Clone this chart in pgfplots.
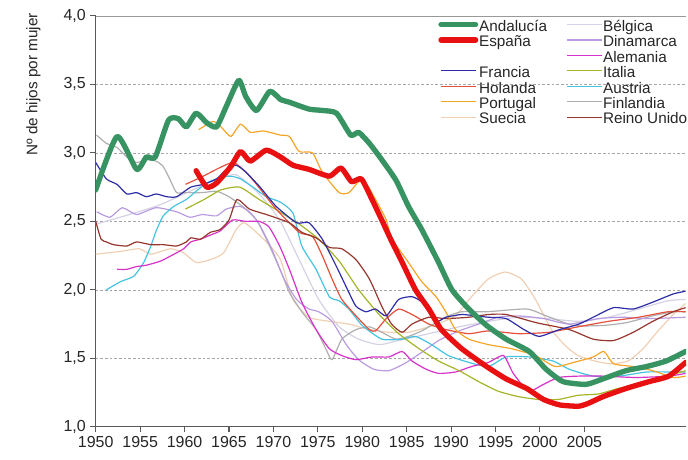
\documentclass[border=0pt]{standalone}
\usepackage{pgfplots}
\pgfplotsset{compat=1.18}
\usepackage{fontspec}
\setmainfont{Liberation Sans}
\newcommand\lf{\fontsize{11.5}{13}\selectfont}
\definecolor{cAnd}{RGB}{55,148,98}
\definecolor{cEsp}{RGB}{232,16,16}
\definecolor{cFra}{RGB}{45,45,165}
\definecolor{cHol}{RGB}{228,80,60}
\definecolor{cPor}{RGB}{245,165,40}
\definecolor{cSue}{RGB}{240,208,180}
\definecolor{cBel}{RGB}{212,210,228}
\definecolor{cDin}{RGB}{185,155,225}
\definecolor{cAle}{RGB}{215,50,200}
\definecolor{cIta}{RGB}{165,180,40}
\definecolor{cAus}{RGB}{70,195,225}
\definecolor{cFin}{RGB}{175,175,175}
\definecolor{cRei}{RGB}{150,55,45}
\pgfplotsset{
  thinl/.style={line width=0.9pt, smooth, tension=0.35, line join=round},
  thickl/.style={line width=4pt, smooth, tension=0.35, line join=round, line cap=round},
}
\begin{document}
\begin{tikzpicture}
\begin{axis}[
  scale only axis, width=444pt, height=309pt,
  xmin=1950, xmax=2016.45, ymin=1, ymax=4,
  axis x line*=bottom, axis y line*=left,
  axis line style={-, draw=black!65, line width=0.8pt},
  xtick={1950,1955,1960,1965,1970,1975,1980,1985,1990,1995,2000,2005},
  xticklabels={1950,1955,1960,1965,1970,1975,1980,1985,1990,1995,2000,2005},
  ytick={1,1.5,2,2.5,3,3.5,4},
  yticklabels={{1,0},{1,5},{2,0},{2,5},{3,0},{3,5},{4,0}},
  tick align=outside, major tick length=4pt,
  tick style={draw=black!65, line width=0.8pt},
  ymajorgrids,
  major grid style={draw=black!35, dash pattern=on 2pt off 1.5pt, line width=0.5pt},
  ticklabel style={font=\fontsize{12}{14}\selectfont, text=black!85},
  ylabel={Nº de hijos por mujer},
  ylabel style={at={(axis description cs:-0.093,1.007)}, anchor=south east, inner sep=0pt, font=\fontsize{11.5}{13}\selectfont, text=black!85},
  legend columns=2,
  legend cell align=left,
  legend image code/.code={\draw[#1] (0pt,2.3pt) -- (26pt,2.3pt);},
  legend style={at={(0.58,0.991)}, anchor=north west, draw=none, fill=none, inner sep=0pt,
    text=black!85,
    nodes={inner sep=0.6pt, text height=8pt, text depth=2.4pt},
    /tikz/every even column/.append style={column sep=14pt}},
]
\draw[black!40, line width=0.6pt] (rel axis cs:0,1) -- (rel axis cs:1,1);

% Belgica
\addplot[cBel, thinl, forget plot] coordinates {(1950.0,2.48) (1953.8,2.55) (1957.2,2.62) (1960.6,2.72) (1963.4,2.80) (1965.8,2.84) (1968.4,2.70) (1970.7,2.51) (1972.9,2.22) (1975.1,1.93) (1977.4,1.73) (1979.6,1.64) (1981.9,1.60) (1984.1,1.63) (1987.5,1.68) (1990.9,1.73) (1994.2,1.77) (1997.6,1.80) (2001.0,1.79) (2004.3,1.77) (2007.7,1.80) (2011.1,1.86) (2014.4,1.92) (2016.4,1.93)};
% Suecia
\addplot[cSue, thinl, forget plot] coordinates {(1950.0,2.26) (1952.7,2.28) (1954.9,2.30) (1956.2,2.26) (1958.4,2.30) (1959.9,2.27) (1961.3,2.20) (1962.9,2.22) (1964.4,2.27) (1965.8,2.44) (1966.6,2.49) (1967.4,2.46) (1969.2,2.35) (1970.8,2.22) (1972.2,1.93) (1974.0,1.80) (1976.3,1.77) (1978.5,1.75) (1980.8,1.71) (1983.0,1.69) (1985.2,1.69) (1987.5,1.73) (1989.2,1.77) (1990.5,1.81) (1992.3,1.95) (1994.2,2.08) (1996.1,2.13) (1997.9,2.08) (1999.5,1.93) (2001.3,1.71) (2002.9,1.59) (2004.3,1.52) (2006.2,1.48) (2008.0,1.46) (2009.9,1.48) (2011.6,1.57) (2013.3,1.70) (2015.0,1.82) (2016.4,1.90)};
% Finlandia
\addplot[cFin, thinl, forget plot] coordinates {(1950.1,3.13) (1951.2,3.07) (1952.4,3.04) (1953.5,2.97) (1954.6,2.93) (1955.7,2.95) (1956.8,2.94) (1957.6,2.90) (1958.4,2.80) (1959.1,2.71) (1960.2,2.71) (1962.0,2.71) (1963.6,2.72) (1965.0,2.68) (1966.5,2.61) (1968.1,2.51) (1969.5,2.33) (1971.0,2.11) (1971.8,1.98) (1973.2,1.84) (1974.8,1.71) (1975.9,1.57) (1976.6,1.49) (1977.7,1.64) (1979.3,1.71) (1980.8,1.73) (1982.2,1.69) (1983.8,1.64) (1985.2,1.66) (1986.7,1.70) (1988.3,1.76) (1989.7,1.81) (1991.2,1.84) (1994.0,1.84) (1998.5,1.86) (2000.7,1.81) (2003.8,1.74) (2007.1,1.74) (2009.7,1.76) (2012.7,1.81) (2015.0,1.84) (2016.4,1.84)};
% Dinamarca
\addplot[cDin, thinl, forget plot] coordinates {(1950.1,2.57) (1951.6,2.53) (1953.0,2.60) (1954.6,2.55) (1956.8,2.60) (1959.1,2.57) (1960.6,2.53) (1962.0,2.55) (1963.6,2.54) (1964.7,2.59) (1966.2,2.61) (1967.3,2.57) (1968.4,2.48) (1969.8,2.30) (1971.2,2.08) (1972.6,1.93) (1974.0,1.86) (1975.1,1.84) (1976.6,1.77) (1978.2,1.60) (1979.6,1.49) (1981.3,1.42) (1983.0,1.41) (1984.7,1.46) (1986.4,1.53) (1988.6,1.63) (1990.9,1.70) (1993.1,1.75) (1995.3,1.80) (1997.6,1.81) (2000.4,1.79) (2003.3,1.75) (2006.6,1.79) (2009.4,1.80) (2012.2,1.79) (2016.4,1.80)};
% Austria
\addplot[cAus, thinl, forget plot] coordinates {(1951.2,2.00) (1952.8,2.06) (1954.3,2.10) (1955.4,2.20) (1956.2,2.32) (1956.8,2.43) (1957.6,2.54) (1958.8,2.61) (1960.2,2.66) (1961.3,2.72) (1962.5,2.78) (1964.0,2.82) (1965.2,2.83) (1966.3,2.81) (1967.7,2.75) (1969.2,2.68) (1970.8,2.64) (1972.2,2.56) (1973.2,2.32) (1974.8,2.15) (1976.3,1.95) (1977.4,1.92) (1978.5,1.86) (1980.0,1.74) (1982.2,1.64) (1984.5,1.64) (1986.0,1.66) (1987.8,1.60) (1989.7,1.52) (1992.0,1.47) (1994.2,1.44) (1996.2,1.51) (1998.8,1.51) (2001.5,1.48) (2003.3,1.42) (2006.0,1.37) (2008.9,1.37) (2012.0,1.40) (2015.0,1.40) (2016.4,1.40)};
% Alemania
\addplot[cAle, thinl, forget plot] coordinates {(1952.4,2.15) (1953.5,2.15) (1954.6,2.17) (1955.7,2.18) (1957.3,2.21) (1958.8,2.26) (1959.9,2.30) (1960.7,2.35) (1961.8,2.37) (1962.9,2.40) (1964.0,2.43) (1965.4,2.51) (1966.9,2.50) (1968.4,2.50) (1969.5,2.46) (1970.7,2.32) (1971.8,2.15) (1973.2,1.91) (1974.8,1.71) (1976.3,1.57) (1977.7,1.52) (1979.3,1.49) (1981.1,1.51) (1983.0,1.51) (1984.5,1.55) (1985.6,1.48) (1987.2,1.42) (1988.6,1.39) (1990.5,1.40) (1992.3,1.44) (1994.2,1.47) (1995.9,1.52) (1997.0,1.39) (1998.7,1.26) (2000.4,1.31) (2002.1,1.36) (2004.3,1.37) (2007.1,1.37) (2010.8,1.36) (2014.5,1.37) (2016.4,1.39)};
% Italia
\addplot[cIta, thinl, forget plot] coordinates {(1960.1,2.59) (1962.2,2.66) (1964.1,2.73) (1966.2,2.75) (1968.4,2.66) (1970.7,2.57) (1972.9,2.48) (1975.1,2.37) (1977.4,2.21) (1979.6,2.00) (1981.9,1.82) (1984.1,1.68) (1986.4,1.57) (1988.6,1.48) (1990.9,1.41) (1993.1,1.33) (1995.3,1.26) (1997.6,1.22) (1999.8,1.20) (2002.1,1.20) (2004.3,1.23) (2006.6,1.24) (2008.8,1.28) (2011.1,1.31) (2013.3,1.35) (2016.4,1.41)};
% Holanda
\addplot[cHol, thinl, forget plot] coordinates {(1960.1,2.77) (1962.1,2.83) (1963.9,2.89) (1965.5,2.93) (1966.9,2.86) (1968.1,2.77) (1970.3,2.59) (1972.9,2.42) (1974.4,2.39) (1975.5,2.25) (1976.6,2.08) (1977.7,1.93) (1979.3,1.81) (1980.8,1.71) (1981.5,1.70) (1982.7,1.79) (1984.1,1.86) (1985.6,1.82) (1987.5,1.75) (1989.4,1.71) (1992.0,1.68) (1994.2,1.70) (1997.6,1.68) (2001.0,1.69) (2004.3,1.73) (2007.7,1.77) (2011.1,1.80) (2014.4,1.84) (2016.4,1.84)};
% Reino Unido
\addplot[cRei, thinl, forget plot] coordinates {(1950.0,2.50) (1950.6,2.37) (1951.2,2.35) (1952.0,2.33) (1953.5,2.32) (1954.6,2.35) (1956.2,2.33) (1957.6,2.33) (1959.1,2.32) (1960.2,2.35) (1960.7,2.38) (1961.8,2.37) (1962.9,2.42) (1964.0,2.44) (1965.0,2.51) (1965.9,2.66) (1967.3,2.59) (1969.2,2.55) (1971.8,2.49) (1973.2,2.42) (1974.8,2.38) (1976.3,2.31) (1977.7,2.30) (1979.3,2.22) (1980.8,2.08) (1982.2,1.88) (1983.3,1.75) (1984.5,1.69) (1985.6,1.75) (1987.5,1.80) (1989.4,1.79) (1992.0,1.80) (1994.2,1.82) (1996.2,1.82) (1999.6,1.76) (2003.3,1.71) (2006.0,1.64) (2008.3,1.63) (2010.5,1.69) (2012.7,1.77) (2015.0,1.84) (2016.4,1.87)};
% Portugal
\addplot[cPor, thinl, forget plot] coordinates {(1961.6,3.17) (1963.2,3.23) (1964.1,3.19) (1965.2,3.12) (1966.3,3.21) (1967.4,3.15) (1968.9,3.16) (1970.8,3.13) (1971.8,3.12) (1972.9,3.01) (1974.4,3.00) (1975.5,2.86) (1977.4,2.71) (1978.5,2.71) (1979.6,2.79) (1980.4,2.78) (1981.5,2.66) (1982.7,2.51) (1983.3,2.37) (1984.1,2.30) (1985.2,2.20) (1986.7,2.06) (1988.3,1.95) (1989.4,1.84) (1990.5,1.71) (1992.0,1.64) (1994.2,1.60) (1996.8,1.57) (1999.5,1.52) (2001.7,1.44) (2003.8,1.47) (2006.0,1.51) (2007.2,1.55) (2008.3,1.46) (2010.5,1.44) (2012.7,1.41) (2015.0,1.36) (2016.4,1.37)};
% Francia
\addplot[cFra, thinl, forget plot] coordinates {(1950.0,2.93) (1951.2,2.81) (1952.4,2.77) (1953.5,2.70) (1954.6,2.71) (1955.7,2.68) (1956.8,2.70) (1958.0,2.68) (1959.1,2.68) (1960.7,2.75) (1962.1,2.77) (1963.6,2.81) (1964.7,2.88) (1965.8,2.91) (1966.9,2.86) (1968.5,2.75) (1970.3,2.61) (1972.6,2.49) (1974.0,2.49) (1975.5,2.37) (1977.1,2.17) (1978.5,1.98) (1979.3,1.88) (1980.4,1.84) (1981.5,1.86) (1982.7,1.81) (1984.1,1.93) (1985.6,1.95) (1986.7,1.91) (1988.3,1.77) (1989.4,1.80) (1991.2,1.82) (1992.8,1.81) (1994.2,1.80) (1996.2,1.79) (1998.2,1.71) (1999.9,1.66) (2002.2,1.71) (2004.4,1.75) (2006.3,1.81) (2008.3,1.87) (2010.5,1.86) (2012.7,1.91) (2015.0,1.97) (2016.4,1.99)};
% Andalucia
\addplot[cAnd, thickl, forget plot] coordinates {(1950.0,2.73) (1952.4,3.12) (1954.6,2.88) (1955.7,2.97) (1956.7,2.97) (1958.2,3.24) (1959.3,3.25) (1960.2,3.19) (1961.3,3.29) (1962.5,3.22) (1963.6,3.19) (1964.7,3.34) (1966.1,3.53) (1966.9,3.41) (1968.1,3.31) (1969.6,3.45) (1970.8,3.39) (1971.8,3.37) (1974.0,3.32) (1975.5,3.31) (1977.1,3.29) (1978.7,3.13) (1979.6,3.15) (1980.8,3.07) (1982.2,2.95) (1983.8,2.80) (1985.2,2.61) (1986.7,2.44) (1988.6,2.20) (1990.1,2.00) (1992.0,1.86) (1994.0,1.74) (1996.2,1.64) (1998.8,1.55) (2000.7,1.42) (2002.6,1.33) (2005.2,1.31) (2007.1,1.35) (2009.7,1.41) (2012.0,1.44) (2014.2,1.48) (2016.4,1.55)};
% Espana
\addplot[cEsp, thickl, forget plot] coordinates {(1961.3,2.87) (1962.5,2.75) (1963.6,2.78) (1965.2,2.90) (1966.3,3.01) (1967.4,2.94) (1969.2,3.02) (1970.8,2.97) (1972.2,2.91) (1974.0,2.88) (1976.3,2.83) (1977.6,2.89) (1978.8,2.79) (1979.9,2.81) (1981.1,2.66) (1982.2,2.51) (1983.2,2.37) (1984.5,2.20) (1986.0,2.00) (1987.5,1.86) (1988.9,1.71) (1991.2,1.57) (1994.0,1.44) (1996.2,1.35) (1998.5,1.28) (2000.4,1.20) (2002.2,1.16) (2004.3,1.15) (2005.4,1.17) (2007.1,1.22) (2009.7,1.28) (2012.3,1.33) (2014.5,1.37) (2016.4,1.47)};

% legend
\addlegendimage{cAnd, line width=4pt, line cap=round}\addlegendentry{\lf Andalucía}
\addlegendimage{cBel, line width=0.9pt}\addlegendentry{\lf Bélgica}
\addlegendimage{cEsp, line width=4pt, line cap=round}\addlegendentry{\lf España}
\addlegendimage{cDin, line width=0.9pt}\addlegendentry{\lf Dinamarca}
\addlegendimage{empty legend}\addlegendentry{}
\addlegendimage{cAle, line width=0.9pt}\addlegendentry{\lf Alemania}
\addlegendimage{cFra, line width=0.9pt}\addlegendentry{\lf Francia}
\addlegendimage{cIta, line width=0.9pt}\addlegendentry{\lf Italia}
\addlegendimage{cHol, line width=0.9pt}\addlegendentry{\lf Holanda}
\addlegendimage{cAus, line width=0.9pt}\addlegendentry{\lf Austria}
\addlegendimage{cPor, line width=0.9pt}\addlegendentry{\lf Portugal}
\addlegendimage{cFin, line width=0.9pt}\addlegendentry{\lf Finlandia}
\addlegendimage{cSue, line width=0.9pt}\addlegendentry{\lf Suecia}
\addlegendimage{cRei, line width=0.9pt}\addlegendentry{\lf Reino Unido}
\end{axis}
\path (current axis.south west) ++(-72pt,-24.75pt);
\path (current axis.north east) ++(0pt,12pt);
\end{tikzpicture}
\end{document}
